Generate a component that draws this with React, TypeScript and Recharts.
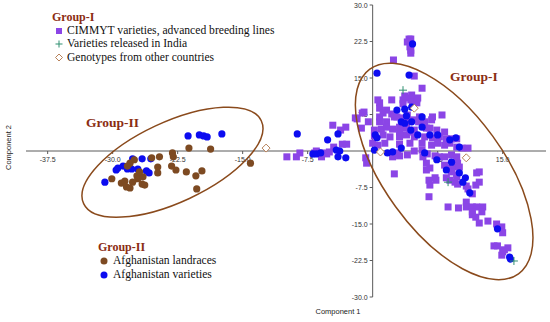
import React from 'react';
import { ScatterChart, Scatter, XAxis, YAxis, ReferenceLine, ReferenceDot } from 'recharts';

// ---------- data (Component 1, Component 2) ----------
const xTicks = [-37.5, -30, -22.5, -15, -7.5, 7.5, 15];
const yTicks = [30, 22.5, 15, 7.5, -7.5, -15, -22.5, -30];

const cimmytPoints: [number, number][] = [
  [-9.9, -1.2], [-8.8, -1.2], [-8.4, -0.4], [-6.7, -0.4], [-6.5, 0.0], [-5.9, -1.2], [-5.8, -0.4], [-5.3, -0.6],
  [-5.0, -0.2], [-4.5, 0.8], [-3.5, 1.4], [-3.0, 1.4], [-4.6, 5.3], [-3.1, 4.9], [-3.7, 4.3], [-1.8, 6.6],
  [-1.2, 7.8], [-1.3, 4.7], [-0.8, -1.4], [-0.7, -2.5], [-2.0, 6.8],
  [4.2, 23.0], [4.4, 23.0], [4.0, 22.4], [4.3, 21.4], [4.4, 20.7], [4.4, 20.1], [2.4, 18.7], [4.8, 15.4],
  [5.7, 12.9], [0.6, 10.5], [0.8, 9.9], [2.2, 10.5], [3.5, 10.5], [3.9, 10.9], [4.4, 10.5], [5.1, 10.7],
  [3.5, 9.7], [4.6, 9.9], [4.5, 11.5], [0.8, 8.8], [1.6, 8.4], [-1.0, 8.0], [1.2, 7.8], [2.2, 7.6],
  [2.5, 7.0], [3.3, 6.8], [5.4, 7.0], [6.9, 7.0], [8.0, 7.4], [-0.5, 6.0], [0.8, 6.0], [1.6, 6.0],
  [3.9, 6.0], [4.6, 6.4], [5.3, 6.0], [6.8, 6.4], [0.2, 4.3], [1.0, 4.5], [1.6, 4.9], [2.3, 4.5],
  [3.1, 4.9], [3.9, 4.7], [4.8, 4.3], [6.2, 4.7], [7.4, 4.3], [8.3, 3.9], [0.2, 3.1], [1.2, 3.3],
  [2.0, 2.9], [3.1, 2.9], [3.9, 3.3], [4.8, 2.9], [6.0, 2.9], [6.9, 2.7], [7.7, 2.9], [8.5, 2.5],
  [9.1, 2.5], [9.7, 2.5], [0.0, 1.6], [0.6, 1.2], [1.4, 1.6], [3.1, 1.4], [4.3, 1.6], [5.7, 1.6],
  [6.8, 1.2], [7.5, 1.6], [8.9, 1.6], [10.3, 0.6], [2.3, -1.2], [3.1, -1.0], [4.0, -0.8], [4.8, 0.0],
  [5.7, 0.2], [6.3, -0.6], [7.2, -1.0], [8.3, -1.2], [9.1, -0.8], [9.7, -1.2], [6.2, -2.5], [6.6, -3.5],
  [8.3, -2.9], [8.9, -3.5], [9.5, -3.3], [9.8, -2.5], [2.5, -4.7], [7.2, -5.5], [8.5, -5.5], [9.7, -4.9],
  [12.3, -4.3], [6.5, -6.0], [6.6, -7.0], [7.3, -6.0], [8.9, -6.0], [9.5, -6.4], [9.8, -6.8], [10.8, -7.2],
  [11.0, -7.8], [11.5, -8.8], [11.9, -7.0], [6.5, -9.4], [8.7, -11.5], [9.9, -11.7], [10.8, -10.5], [10.8, -11.5],
  [11.5, -11.5], [12.0, -11.5], [12.7, -11.5], [11.5, -12.5], [11.5, -13.1], [11.9, -13.6], [12.6, -12.5], [12.3, -14.8],
  [13.3, -14.4], [14.3, -15.0], [14.9, -15.6], [15.0, -16.8], [14.0, -19.5], [14.4, -19.5], [15.0, -20.7], [14.9, -21.4],
  [15.6, -19.9], [15.2, -20.3],
  [3.7, 11.3], [5.2, 10.9], [5.1, 9.9], [0.8, 7.0], [2.8, 7.0], [4.0, 7.4], [6.0, 6.0], [3.1, 3.9],
  [4.3, 3.9], [6.6, 4.7], [8.3, 1.2], [9.7, 0.8], [11.0, 0.6], [2.9, -0.4], [5.8, -1.2], [7.7, -1.2],
  [9.2, -2.3], [10.0, -3.3], [9.1, -4.3], [9.7, -5.3], [6.2, -3.9], [12.3, -6.4], [12.0, -4.5],
];

const afgVarietyPoints: [number, number][] = [
  [-21.3, 3.1], [-20.0, 3.3], [-19.5, 3.1], [-19.1, 2.9], [-17.4, 3.5], [-30.9, -6.4], [-29.6, -3.9], [-29.4, -3.5],
  [-28.8, -3.1], [-28.3, -3.7], [-27.8, -3.7], [-27.1, -3.7], [-26.1, -4.1], [-25.8, -4.5], [-27.7, -1.6], [-26.6, -1.6],
  [-25.6, -1.6],
  [-8.7, 3.5], [-5.2, 2.3], [-4.0, 3.5], [-6.9, -0.6], [-6.5, -0.6], [-6.0, -0.4], [-3.8, 0.0], [-4.2, 0.2],
  [-4.0, -1.2], [-3.1, -1.4],
  [0.5, 16.0], [4.2, 15.6], [4.6, 22.0], [2.8, 8.4], [3.7, 8.6], [4.5, 9.0], [3.9, 7.2], [5.7, 7.0],
  [3.3, 6.0], [3.7, 5.7], [4.5, 6.0], [4.4, 4.3], [5.7, 4.9], [0.3, 3.3], [0.5, 2.7], [6.6, 3.3],
  [7.5, 3.3], [5.2, 3.3], [8.9, 2.3], [9.6, 2.7], [10.0, 0.8], [3.3, 0.6], [2.3, -0.2], [1.7, -0.4],
  [0.2, 0.2], [6.0, -0.4], [7.4, -1.8], [9.1, -2.3], [8.5, -3.9], [10.0, -4.5], [10.7, -5.5], [10.4, -6.4],
  [11.2, -8.6], [14.4, -16.0], [15.8, -21.8], [15.9, -22.2],
];

const landracePoints: [number, number][] = [
  [-21.2, 0.6], [-18.7, 0.4], [-23.1, -0.4], [-23.0, -1.2], [-24.6, -1.2], [-25.5, -1.4], [-24.8, -3.3], [-23.2, -3.1],
  [-22.7, -3.9], [-21.5, -4.3], [-24.8, -4.5], [-19.7, -4.1], [-20.4, -5.1], [-20.3, -7.8], [-14.1, -2.5], [-28.0, -2.5],
  [-30.1, -5.7], [-29.0, -6.6], [-28.4, -7.4], [-28.0, -7.6], [-27.1, -5.7], [-26.6, -6.8], [-27.2, -5.1], [-26.5, -5.3],
  [-28.3, -3.1], [-27.5, -1.8], [-26.9, -4.3], [-26.3, -7.0], [-28.6, -6.2], [-27.7, -6.4],
];

const indiaPoints: [number, number][] = [
  [3.5, 12.5], [16.3, -22.6], [8.7, -6.4],
];

const otherPoints: [number, number][] = [
  [-12.3, 0.6], [10.8, -1.4], [0.9, -0.2], [4.8, 8.8],
];

// ellipse centres (data units)
const groupIICentre: [number, number] = [-23.1, -2.3];
const groupICentre: [number, number] = [8.25, -4.2];

const toRows = (pts: [number, number][]) => pts.map(([x, y]) => ({ x, y }));

// ---------- styles ----------
const PURPLE = '#8b45e6';
const BLUE = '#0c0cf0';
const BROWN = '#7d4a22';
const ELLIPSE = '#8a4a1c';
const GROUP_TEXT = '#8b2d12';
const DIAMOND = '#b8825a';
const CROSS = '#2f8f70';
const AXIS = '#5a5a5a';
const TICK_FONT = '"Liberation Sans", Arial, sans-serif';
const SERIF = '"Liberation Serif", "Times New Roman", serif';

const SquareShape = (p: any) => (
  <rect x={p.cx - 3.5} y={p.cy - 3.5} width={7} height={7} fill={PURPLE} />
);
const makeCircle = (color: string) => (p: any) => (
  <circle cx={p.cx} cy={p.cy} r={3.6} fill={color} />
);
const CrossShape = (p: any) => (
  <g stroke={CROSS} strokeWidth={1}>
    <line x1={p.cx - 4} y1={p.cy} x2={p.cx + 4} y2={p.cy} />
    <line x1={p.cx} y1={p.cy - 4} x2={p.cx} y2={p.cy + 4} />
  </g>
);
const DiamondShape = (p: any) => (
  <polygon
    points={`${p.cx},${p.cy - 4} ${p.cx + 4},${p.cy} ${p.cx},${p.cy + 4} ${p.cx - 4},${p.cy}`}
    fill="#ffffff"
    stroke={DIAMOND}
    strokeWidth={1}
  />
);

const fmt = (v: number) => v.toFixed(1);

const makeXTick = (v: number) => (p: any) => (
  <g>
    <line x1={p.cx} y1={p.cy} x2={p.cx} y2={p.cy + 3} stroke={AXIS} strokeWidth={1} />
    <text x={p.cx} y={p.cy + 11} textAnchor="middle" fontSize={7} fontFamily={TICK_FONT} fill="#333">
      {fmt(v)}
    </text>
  </g>
);
const makeYTick = (v: number) => (p: any) => (
  <g>
    <line x1={p.cx - 3} y1={p.cy} x2={p.cx} y2={p.cy} stroke={AXIS} strokeWidth={1} />
    <text x={p.cx - 5} y={p.cy + 2.5} textAnchor="end" fontSize={7} fontFamily={TICK_FONT} fill="#333">
      {fmt(v)}
    </text>
  </g>
);
const makeEllipse = (rx: number, ry: number, angle: number) => (p: any) => (
  <ellipse
    cx={p.cx}
    cy={p.cy}
    rx={rx}
    ry={ry}
    transform={`rotate(${angle} ${p.cx} ${p.cy})`}
    fill="none"
    stroke={ELLIPSE}
    strokeWidth={1.5}
  />
);

const legendRow: React.CSSProperties = {
  position: 'absolute',
  fontFamily: SERIF,
  fontSize: 11.6,
  color: '#111',
  whiteSpace: 'nowrap',
  lineHeight: '14px',
};
const groupTitle: React.CSSProperties = {
  position: 'absolute',
  fontFamily: SERIF,
  fontWeight: 'bold',
  color: GROUP_TEXT,
  whiteSpace: 'nowrap',
};

export default function App() {
  return (
    <div style={{ position: 'absolute', left: 0, top: 0, width: 550, height: 322, background: '#fff' }}>
      <ScatterChart width={550} height={322} margin={{ top: 5, right: 4, bottom: 25, left: 26 }}>
        <XAxis type="number" dataKey="x" domain={[-40, 20]} hide allowDataOverflow />
        <YAxis type="number" dataKey="y" domain={[-30, 30]} hide allowDataOverflow />
        <ReferenceLine y={0} stroke={AXIS} strokeWidth={1} />
        <ReferenceLine x={0} stroke={AXIS} strokeWidth={1} />
        {xTicks.map((v) => (
          <ReferenceDot key={'xt' + v} x={v} y={0} r={0} shape={makeXTick(v)} />
        ))}
        {yTicks.map((v) => (
          <ReferenceDot key={'yt' + v} x={0} y={v} r={0} shape={makeYTick(v)} />
        ))}
        <Scatter data={toRows(cimmytPoints)} shape={SquareShape} isAnimationActive={false} />
        <Scatter data={toRows(afgVarietyPoints)} shape={makeCircle(BLUE)} isAnimationActive={false} />
        <Scatter data={toRows(landracePoints)} shape={makeCircle(BROWN)} isAnimationActive={false} />
        <Scatter data={toRows(otherPoints)} shape={DiamondShape} isAnimationActive={false} />
        <Scatter data={toRows(indiaPoints)} shape={CrossShape} isAnimationActive={false} />
        <ReferenceDot x={groupIICentre[0]} y={groupIICentre[1]} r={0} shape={makeEllipse(98, 40, -25)} />
        <ReferenceDot x={groupICentre[0]} y={groupICentre[1]} r={0} shape={makeEllipse(126.5, 60, 54)} />
      </ScatterChart>

      {/* axis titles */}
      <div style={{ position: 'absolute', left: 308, top: 307, width: 60, textAlign: 'center', fontFamily: TICK_FONT, fontSize: 7.5, color: '#222' }}>
        Component 1
      </div>
      <div
        style={{
          position: 'absolute',
          left: -22,
          top: 143,
          width: 60,
          textAlign: 'center',
          fontFamily: TICK_FONT,
          fontSize: 7.5,
          color: '#222',
          transform: 'rotate(-90deg)',
        }}
      >
        Component 2
      </div>

      {/* in-plot group labels */}
      <div style={{ ...groupTitle, left: 450, top: 69, fontSize: 13.5 }}>Group-I</div>
      <div style={{ ...groupTitle, left: 86, top: 115, fontSize: 13.5 }}>Group-II</div>

      {/* top legend */}
      <div style={{ ...groupTitle, left: 52, top: 10, fontSize: 12 }}>Group-I</div>
      <svg style={{ position: 'absolute', left: 54, top: 26 }} width={12} height={40}>
        <rect x={2} y={2} width={6} height={6} fill={PURPLE} />
        <g stroke={CROSS} strokeWidth={1}>
          <line x1={1.5} y1={18} x2={8.5} y2={18} />
          <line x1={5} y1={14.5} x2={5} y2={21.5} />
        </g>
        <polygon points="5,28 8.5,31.5 5,35 1.5,31.5" fill="#fff" stroke={DIAMOND} strokeWidth={1} />
      </svg>
      <div style={{ ...legendRow, left: 67, top: 24 }}>CIMMYT varieties, advanced breeding lines</div>
      <div style={{ ...legendRow, left: 67, top: 37 }}>Varieties released in India</div>
      <div style={{ ...legendRow, left: 67, top: 51 }}>Genotypes from other countries</div>

      {/* bottom legend */}
      <div style={{ ...groupTitle, left: 98, top: 240, fontSize: 12 }}>Group-II</div>
      <svg style={{ position: 'absolute', left: 99, top: 255 }} width={12} height={26}>
        <circle cx={5} cy={6} r={3.5} fill={BROWN} />
        <circle cx={5} cy={20} r={3.5} fill={BLUE} />
      </svg>
      <div style={{ ...legendRow, left: 113, top: 254 }}>Afghanistan landraces</div>
      <div style={{ ...legendRow, left: 113, top: 268 }}>Afghanistan varieties</div>
    </div>
  );
}
